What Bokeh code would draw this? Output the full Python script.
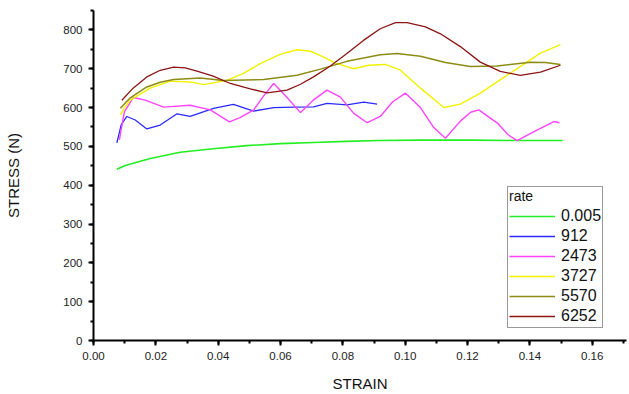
from bokeh.plotting import figure
from bokeh.models import Legend, LegendItem, Range1d, SingleIntervalTicker, CustomJSTickFormatter
from bokeh.embed import file_html
from bokeh.resources import INLINE

# ---- data ----
green_x = [0.0075, 0.0102, 0.0182, 0.0278, 0.0384, 0.0492, 0.0599, 0.0706, 0.0811, 0.0918, 0.1049, 0.1209, 0.137, 0.1505]
green_y = [441, 451, 469, 485, 494, 502, 507, 510, 513, 515, 516, 516, 515, 515]

blue_x = [0.0075, 0.0089, 0.0107, 0.0134, 0.0171, 0.0214, 0.0268, 0.031, 0.0385, 0.0449, 0.0514, 0.0578, 0.0642, 0.0706, 0.0749, 0.0813, 0.0867, 0.091]
blue_y = [509, 556, 577, 568, 545, 555, 584, 577, 598, 608, 591, 600, 601, 602, 611, 607, 614, 609]

pink_x = [0.0083, 0.0099, 0.0128, 0.0166, 0.0225, 0.031, 0.0375, 0.0436, 0.047, 0.0514, 0.0546, 0.0578, 0.0619, 0.0664,
          0.0705, 0.0749, 0.0792, 0.0835, 0.0878, 0.092, 0.096, 0.1001, 0.1049, 0.109, 0.1129, 0.1177, 0.121, 0.1236,
          0.1296, 0.133, 0.1359, 0.1418, 0.1477, 0.1495]
pink_y = [517, 589, 626, 619, 601, 606, 594, 563, 574, 594, 630, 662, 628, 587,
          619, 645, 627, 585, 561, 577, 615, 637, 600, 550, 521, 565, 588, 594,
          560, 530, 515, 540, 564, 561]

yellow_x = [0.0086, 0.0099, 0.0118, 0.0182, 0.0246, 0.031, 0.0353, 0.0428, 0.0481, 0.0535, 0.0599, 0.0653, 0.0696, 0.0728, 0.0779, 0.0835, 0.0882, 0.0936, 0.0984, 0.1049, 0.1124, 0.1177, 0.1241, 0.1295, 0.137, 0.1434, 0.1498]
yellow_y = [581, 599, 619, 650, 668, 666, 659, 670, 688, 713, 737, 749, 745, 734, 714, 700, 709, 711, 697, 650, 600, 609, 637, 666, 706, 740, 762]

olive_x = [0.0086, 0.0118, 0.0171, 0.0214, 0.0257, 0.0342, 0.0417, 0.0546, 0.0653, 0.0728, 0.0813, 0.092, 0.0974, 0.1049, 0.1129, 0.1209, 0.1295, 0.1402, 0.145, 0.1498]
olive_y = [598, 625, 653, 665, 672, 676, 670, 672, 683, 699, 719, 736, 739, 732, 716, 706, 707, 717, 716, 711]

brown_x = [0.0091, 0.0127, 0.0171, 0.0214, 0.0257, 0.0294, 0.0332, 0.0384, 0.0439, 0.0503, 0.0557, 0.0621, 0.0664, 0.0706, 0.076, 0.0813, 0.0866, 0.092, 0.0969, 0.1006, 0.1065, 0.1113, 0.1177, 0.1241, 0.1305, 0.1369, 0.1434, 0.1498]
brown_y = [619, 650, 679, 696, 704, 702, 694, 681, 662, 648, 638, 645, 660, 679, 707, 739, 773, 803, 819, 819, 808, 790, 757, 717, 693, 683, 691, 709]

labels = ["0.005", "912", "2473", "3727", "5570", "6252"]
FONT = "Liberation Sans"

p = figure(width=629, height=394, output_backend="svg", toolbar_location=None,
           x_range=Range1d(0, 0.171), y_range=Range1d(0, 850),
           min_border_left=93, min_border_top=10, min_border_right=3)
p.xgrid.visible = False
p.ygrid.visible = False
p.outline_line_color = None

series = [
    (green_x, green_y, "#22ee22", 1.6),
    (blue_x, blue_y, "#2a2aff", 1.3),
    (pink_x, pink_y, "#ff44ff", 1.4),
    (yellow_x, yellow_y, "#f2f200", 1.4),
    (olive_x, olive_y, "#8c8c14", 1.5),
    (brown_x, brown_y, "#8b1414", 1.3),
]
renderers = []
for xs, ys, c, w in series:
    r = p.line(xs, ys, line_color=c, line_width=w)
    renderers.append(r)

for ax in (p.xaxis[0], p.yaxis[0]):
    ax.axis_line_width = 2
    ax.axis_line_color = "black"
    ax.major_tick_line_width = 2
    ax.minor_tick_line_width = 2
    ax.major_tick_in = 0
    ax.major_tick_out = 5
    ax.minor_tick_in = 0
    ax.minor_tick_out = 3
    ax.major_label_text_font = FONT
    ax.major_label_text_font_size = "11.5px"
    ax.major_label_text_color = "#222222"
    ax.axis_label_text_font = FONT
    ax.axis_label_text_font_size = "15px"
    ax.axis_label_text_font_style = "normal"
    ax.axis_label_text_color = "#111111"

p.xaxis[0].ticker = SingleIntervalTicker(interval=0.02, num_minor_ticks=2)
p.yaxis[0].ticker = SingleIntervalTicker(interval=100, num_minor_ticks=2)
p.xaxis[0].formatter = CustomJSTickFormatter(code="return tick.toFixed(2);")
p.xaxis.axis_label = "STRAIN"
p.yaxis.axis_label = "STRESS (N)"
p.xaxis[0].major_label_standoff = 6
p.yaxis[0].major_label_standoff = 6
p.xaxis[0].axis_label_standoff = 12
p.yaxis[0].axis_label_standoff = 38

items = [LegendItem(label=l, renderers=[r]) for l, r in zip(labels, renderers)]
legend = Legend(items=items, location=(414, 12), title="rate",
                title_text_font=FONT, title_text_font_size="14px", title_text_font_style="normal",
                title_text_color="#111111", title_standoff=2,
                label_text_font=FONT, label_text_font_size="16px", label_text_color="#111111",
                glyph_width=46, glyph_height=20, label_height=20, spacing=0,
                padding=1, margin=0, label_standoff=6,
                border_line_color="#333333", border_line_width=1,
                background_fill_color="white", background_fill_alpha=1.0)
p.add_layout(legend, "center")

open("out.html", "w").write(file_html(p, INLINE))
